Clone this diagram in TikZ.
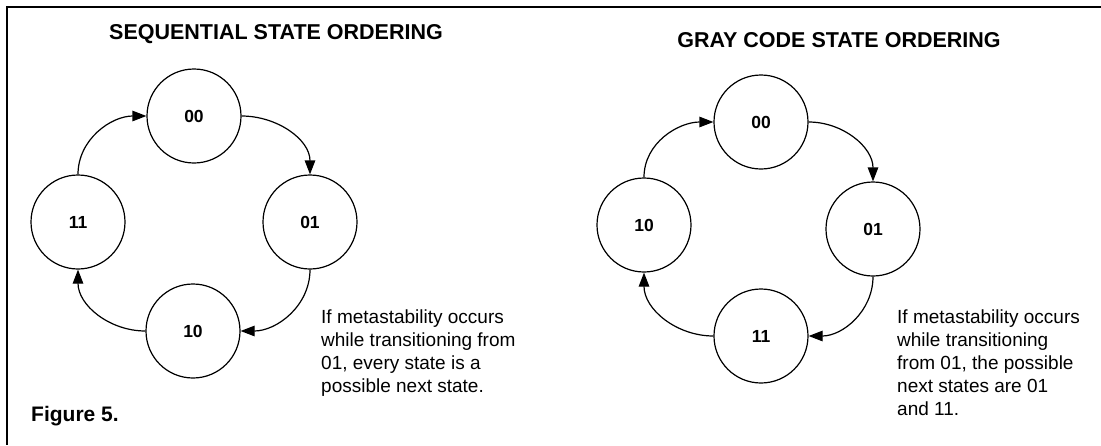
\documentclass[tikz,border=0pt]{standalone}
\usepackage{fontspec}
\setmainfont{Liberation Sans}
\usetikzlibrary{arrows.meta}

\begin{document}
\begin{tikzpicture}[x=1pt, y=-1pt,
    state/.style={draw, circle, minimum size=94pt, inner sep=0pt, line width=1.2pt,
                  font=\fontsize{17.5}{20}\selectfont\bfseries},
    arr/.style={-{Triangle[length=14pt, width=10.5pt]}, line width=1.2pt},
    title/.style={font=\fontsize{21.5}{24}\selectfont\bfseries, inner sep=0pt},
    note/.style={font=\fontsize{19}{23}\selectfont, align=left, anchor=north west, inner sep=0pt},
]
\useasboundingbox (0,0) rectangle (1101,445);
\coordinate (tl) at (7,7);
\coordinate (tr) at (1101,7);
\coordinate (bl) at (7,445);
\draw[line width=1.4pt] (tr) -- (tl) -- (bl);

% sequential ordering
\node[title] (seqtitle) at (276,34) {SEQUENTIAL STATE ORDERING};
\node[state] (s00) at (194,116) {00};
\node[state] (s01) at (310,222) {01};
\node[state] (s10) at (193,331) {10};
\node[state] (s11) at (78,222) {11};
\draw[arr] (s00.east) to[out=0, in=90] (s01.north);
\draw[arr] (s01.south) to[out=-90, in=0] (s10.east);
\draw[arr] (s10.west) to[out=180, in=-90] (s11.south);
\draw[arr] (s11.north) to[out=90, in=180] (s00.west);
\node[note] (seqnote) at (321,310) {If metastability occurs\\while transitioning from\\01, every state is a\\possible next state.};

% gray code ordering
\node[title] (graytitle) at (839,40) {GRAY CODE STATE ORDERING};
\node[state] (g00) at (761,122) {00};
\node[state] (g01) at (873,229) {01};
\node[state] (g11) at (761,336) {11};
\node[state] (g10) at (644,225) {10};
\draw[arr] (g00.east) to[out=0, in=90] (g01.north);
\draw[arr] (g01.south) to[out=-90, in=0] (g11.east);
\draw[arr] (g11.west) to[out=180, in=-90] (g10.south);
\draw[arr] (g10.north) to[out=90, in=180] (g00.west);
\node[note] (graynote) at (897,310) {If metastability occurs\\while transitioning\\from 01, the possible\\next states are 01\\and 11.};

\node[title, anchor=north west, font=\fontsize{21}{24}\selectfont\bfseries] (figlabel) at (31,406) {Figure 5.};
\end{tikzpicture}
\end{document}
